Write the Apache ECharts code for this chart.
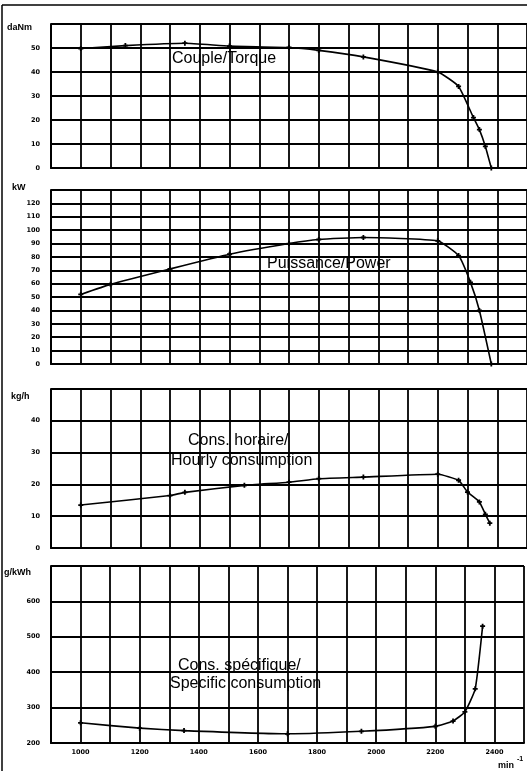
<!DOCTYPE html>
<html><head><meta charset="utf-8">
<script src="https://cdn.jsdelivr.net/npm/echarts@6/dist/echarts.min.js"></script>
<style>html,body{margin:0;padding:0;background:#fff}#c{width:527px;height:771px}</style>
</head><body><div id="c"></div>
<script>
// X scale (min^-1)
const xTickLabels = [1000,1200,1400,1600,1800,2000,2200,2400];
// Torque daNm
const rpmTorque = [1000,1150,1350,1500,1700,1800,1950,2200,2270,2320,2340,2360,2380];
const torque    = [49.8,51,52,50.8,50.2,49,46.3,40,34,21,16,9,0];
// Power kW
const rpmPower = [1000,1100,1300,1500,1700,1800,1950,2200,2270,2310,2340,2380];
const power    = [52,59.5,71,82,90,93,94.5,92,81,61,40,0];
// Hourly consumption kg/h
const rpmHourly = [1000,1300,1350,1550,1700,1800,1950,2200,2270,2300,2340,2360,2375];
const hourly    = [13.5,16.5,17.5,19.7,20.7,21.8,22.3,23.2,21.3,17.6,14.5,10.6,7.8];
// Specific consumption g/kWh
const rpmSpecific = [1000,1200,1350,1700,1950,2200,2260,2300,2335,2360];
const specific    = [257,242,235,226,233,247,262,288,353,530];

const yTicks1 = [0,10,20,30,40,50];
const yTicks2 = [0,10,20,30,40,50,60,70,80,90,100,110,120];
const yTicks3 = [0,10,20,30,40];
const yTicks4 = [200,300,400,500,600];

const zip = (a,b)=>a.map((v,i)=>[v,b[i]]);
const chart = echarts.init(document.getElementById('c'), null, {renderer:'canvas'});
const lineC = '#000';
const tickFont = {color:'#000', fontFamily:'DejaVu Sans', fontWeight:'bold', fontSize:6.5};
const grids = [
  {left:51, right:0, top:24, height:144},
  {left:51, right:0, top:190, height:174},
  {left:51, right:0, top:389, height:159},
  {left:51, right:0, top:566, height:177}
];
function xAx(i){
  return {type:'value', gridIndex:i, min:900, max:2500, interval:100,
    axisLine:{show:true, lineStyle:{color:lineC, width:2}},
    axisTick:{show:false},
    splitLine:{show:true, lineStyle:{color:lineC, width:1.8}},
    axisLabel:{show:i===3, margin:6, ...tickFont,
      formatter:v=> xTickLabels.includes(v) ? String(v) : ''}};
}
function yAx(i,min,max,itv,ticks){
  return {type:'value', gridIndex:i, min:min, max:max, interval:itv,
    axisLine:{show:true, lineStyle:{color:lineC, width:2}},
    axisTick:{show:false},
    splitLine:{show:true, lineStyle:{color:lineC, width:1.8}},
    axisLabel:{margin:11, ...tickFont, formatter:v=> ticks.includes(v) ? String(v) : ''}};
}
const plus = 'path://M0,1.6H5V3.4H0ZM1.6,0H3.4V5H1.6Z';
function ser(i,x,y){
  return {type:'line', xAxisIndex:i, yAxisIndex:i, data:zip(x,y),
    symbol:plus, symbolSize:5, itemStyle:{color:'#000'},
    lineStyle:{color:'#000', width:1.6}, smooth:0.15, animation:false, z:5};
}
const txt = (x,y,t,size,extra)=>({type:'text', left:x, top:y, z:10,
  style:Object.assign({text:t, fill:'#000', font:(size||14)+'px "Liberation Sans", Arial'}, extra||{})});
chart.setOption({
  animation:false,
  grid:grids,
  xAxis:[xAx(0),xAx(1),xAx(2),xAx(3)],
  yAxis:[yAx(0,0,60,10,yTicks1), yAx(1,0,130,10,yTicks2), yAx(2,0,50,10,yTicks3), yAx(3,200,700,100,yTicks4)],
  series:[ser(0,rpmTorque,torque), ser(1,rpmPower,power), ser(2,rpmHourly,hourly), ser(3,rpmSpecific,specific)],
  graphic:[
    {type:'line', shape:{x1:2,y1:5,x2:527,y2:5}, style:{stroke:'#000', lineWidth:1.5}},
    {type:'line', shape:{x1:2,y1:5,x2:2,y2:771}, style:{stroke:'#000', lineWidth:1.5}},
    txt(7,23,'daNm',9,{font:'bold 9px "Liberation Sans", Arial'}),
    txt(12,183,'kW',9,{font:'bold 9px "Liberation Sans", Arial'}),
    txt(11,392,'kg/h',9,{font:'bold 9px "Liberation Sans", Arial'}),
    txt(4,568,'g/kWh',9,{font:'bold 9px "Liberation Sans", Arial'}),
    txt(498,761,'min',9,{font:'bold 9px "Liberation Sans", Arial'}),
    txt(517,756,'-1',7,{font:'bold 7px "Liberation Sans", Arial'}),
    txt(172,51,'Couple/Torque',16),
    txt(267,256,'Puissance/Power',16),
    txt(188,433,'Cons. horaire/',16),
    txt(171,453,'Hourly consumption',16),
    txt(178,658,'Cons. spécifique/',16),
    txt(170,676,'Specific consumption',16)
  ]
});
</script></body></html>
